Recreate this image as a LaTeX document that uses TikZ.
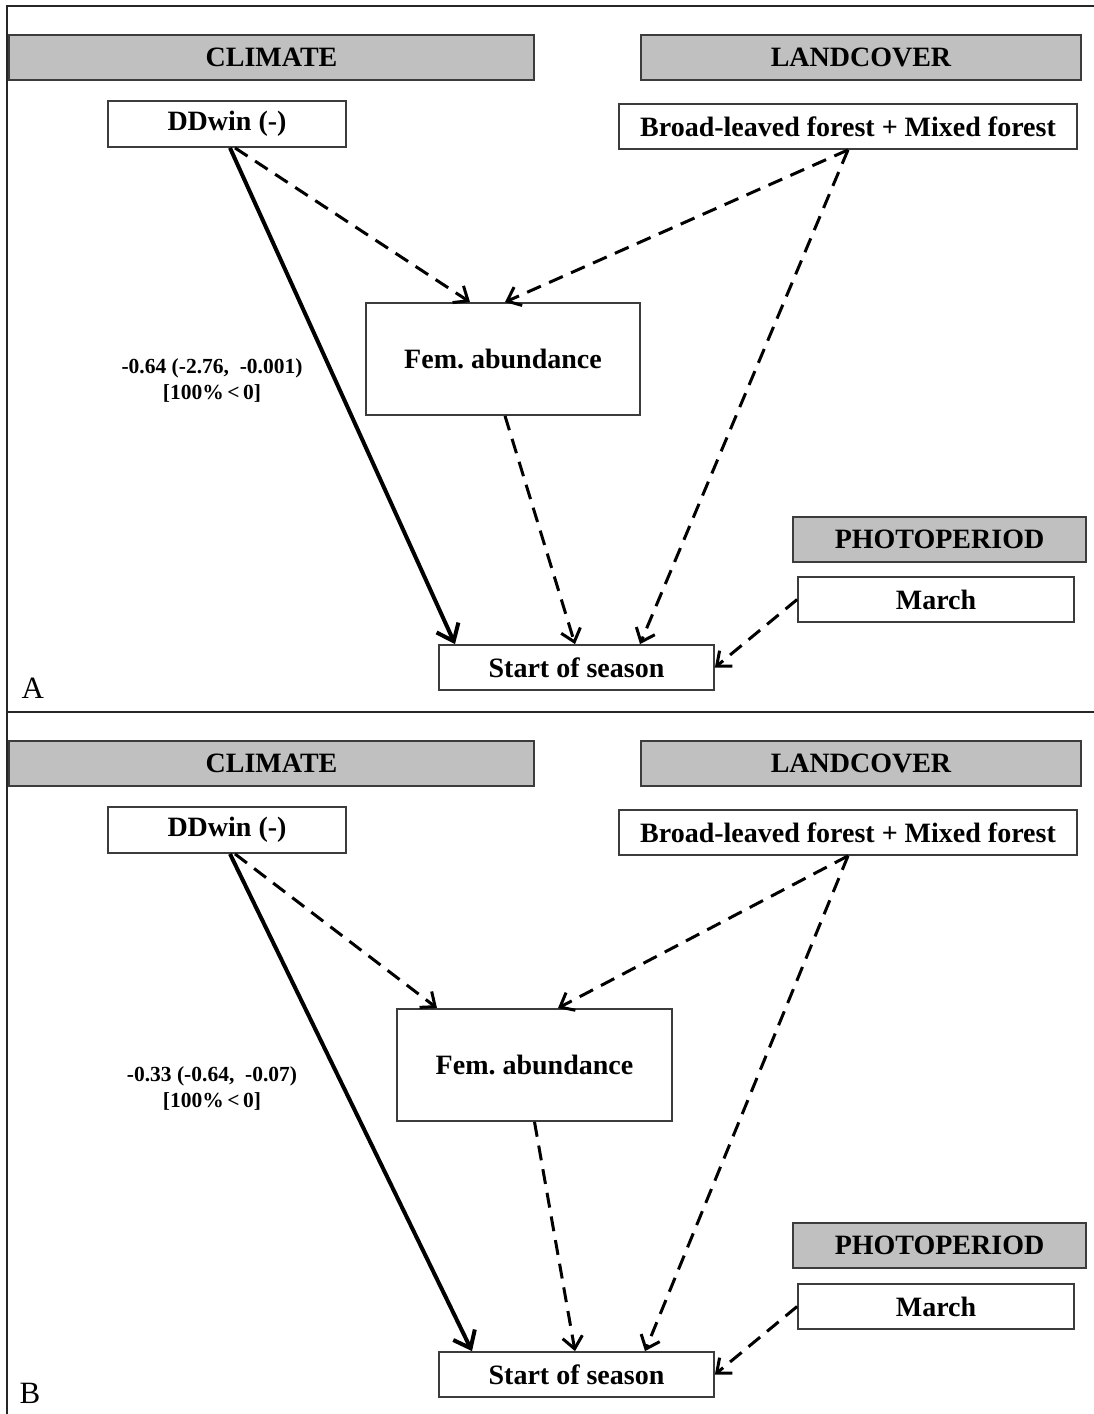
\documentclass[tikz,border=0pt]{standalone}
\usepackage{fontspec}
\setmainfont{Liberation Serif}
\usetikzlibrary{arrows.meta}
\frenchspacing
\definecolor{hdrgray}{RGB}{192,192,192}
\definecolor{boxline}{RGB}{60,60,60}
\tikzset{
  hdr/.style={draw=boxline,line width=1.8pt,fill=hdrgray,inner sep=0pt,
    font=\fontsize{28}{32}\selectfont\bfseries},
  vbox/.style={draw=boxline,line width=1.8pt,fill=white,inner sep=0pt,
    font=\fontsize{28}{32}\selectfont\bfseries},
  lbl/.style={align=center,font=\fontsize{21.5}{26}\selectfont\bfseries},
  plab/.style={font=\fontsize{31}{34}\selectfont,anchor=base west},
  sig/.style={line width=4pt,-{Straight Barb[length=15pt,width=24pt]}},
  nsig/.style={line width=3pt,dash pattern=on 15pt off 9pt,
    -{Straight Barb[length=12pt,width=20pt]}},
  frame/.style={line width=1.8pt,draw=black!85}
}
\begin{document}
\begin{tikzpicture}[x=1pt,y=-1pt]
\useasboundingbox (0,0) rectangle (1094,1414);
% frame
\coordinate (ftl) at (7,6);
\coordinate (ftr) at (1094,6);
\coordinate (fbl) at (7,1414);
\coordinate (fdl) at (7,712);
\coordinate (fdr) at (1094,712);
\draw[frame] (fbl) -- (ftl) -- (ftr);
\draw[frame] (fdl) -- (fdr);

% ---------- Panel A ----------
\node[hdr,minimum width=525pt,minimum height=45pt] (climA) at (271.5,57.5) {CLIMATE};
\node[hdr,minimum width=440pt,minimum height=45pt] (landA) at (861,57.5) {LANDCOVER};
\node[vbox,minimum width=238pt,minimum height=46pt] (ddA) at (227,124) {DDwin (-)};
\node[vbox,minimum width=458pt,minimum height=45pt] (brA) at (848,126.5) {Broad-leaved forest + Mixed forest};
\node[vbox,minimum width=274pt,minimum height=112pt] (femA) at (503,359) {Fem. abundance};
\node[hdr,minimum width=293pt,minimum height=45pt] (photA) at (939.5,539.5) {PHOTOPERIOD};
\node[vbox,minimum width=276pt,minimum height=45pt] (marA) at (936,599.5) {March};
\node[vbox,minimum width=275pt,minimum height=45pt] (sosA) at (576.5,667.5) {Start of season};
\node[lbl] (labA) at (212,380) {-0.64 (-2.76,\ \ -0.001)\\{}[100\%\,<\,0]};
\node[plab] (pA) at (18,698) {A};

\draw[sig] ([xshift=3pt]ddA.south) -- ([xshift=-121.5pt]sosA.north);
\draw[nsig] ([xshift=8pt]ddA.south) -- ([xshift=-33pt]femA.north);
\draw[nsig] (brA.south) -- ([xshift=2pt]femA.north);
\draw[nsig] (brA.south) -- ([xshift=63.5pt]sosA.north);
\draw[nsig] ([xshift=2pt]femA.south) -- ([xshift=-1.5pt]sosA.north);
\draw[nsig] (marA.west) -- (sosA.east);

% ---------- Panel B ----------
\node[hdr,minimum width=525pt,minimum height=45pt] (climB) at (271.5,763.5) {CLIMATE};
\node[hdr,minimum width=440pt,minimum height=45pt] (landB) at (861,763.5) {LANDCOVER};
\node[vbox,minimum width=238pt,minimum height=46pt] (ddB) at (227,830) {DDwin (-)};
\node[vbox,minimum width=458pt,minimum height=45pt] (brB) at (848,832.5) {Broad-leaved forest + Mixed forest};
\node[vbox,minimum width=275pt,minimum height=112pt] (femB) at (534.5,1065) {Fem. abundance};
\node[hdr,minimum width=293pt,minimum height=45pt] (photB) at (939.5,1245.5) {PHOTOPERIOD};
\node[vbox,minimum width=276pt,minimum height=45pt] (marB) at (936,1306.5) {March};
\node[vbox,minimum width=275pt,minimum height=45pt] (sosB) at (576.5,1374.5) {Start of season};
\node[lbl] (labB) at (212,1088) {-0.33 (-0.64,\ \ -0.07)\\{}[100\%\,<\,0]};
\node[plab] (pB) at (16,1403) {B};

\draw[sig] ([xshift=3pt]ddB.south) -- ([xshift=-104.5pt]sosB.north);
\draw[nsig] ([xshift=8pt]ddB.south) -- ([xshift=-97.5pt]femB.north);
\draw[nsig] (brB.south) -- ([xshift=23.5pt]femB.north);
\draw[nsig] (brB.south) -- ([xshift=68.5pt]sosB.north);
\draw[nsig] (femB.south) -- ([xshift=-1.5pt]sosB.north);
\draw[nsig] (marB.west) -- (sosB.east);
\end{tikzpicture}
\end{document}
